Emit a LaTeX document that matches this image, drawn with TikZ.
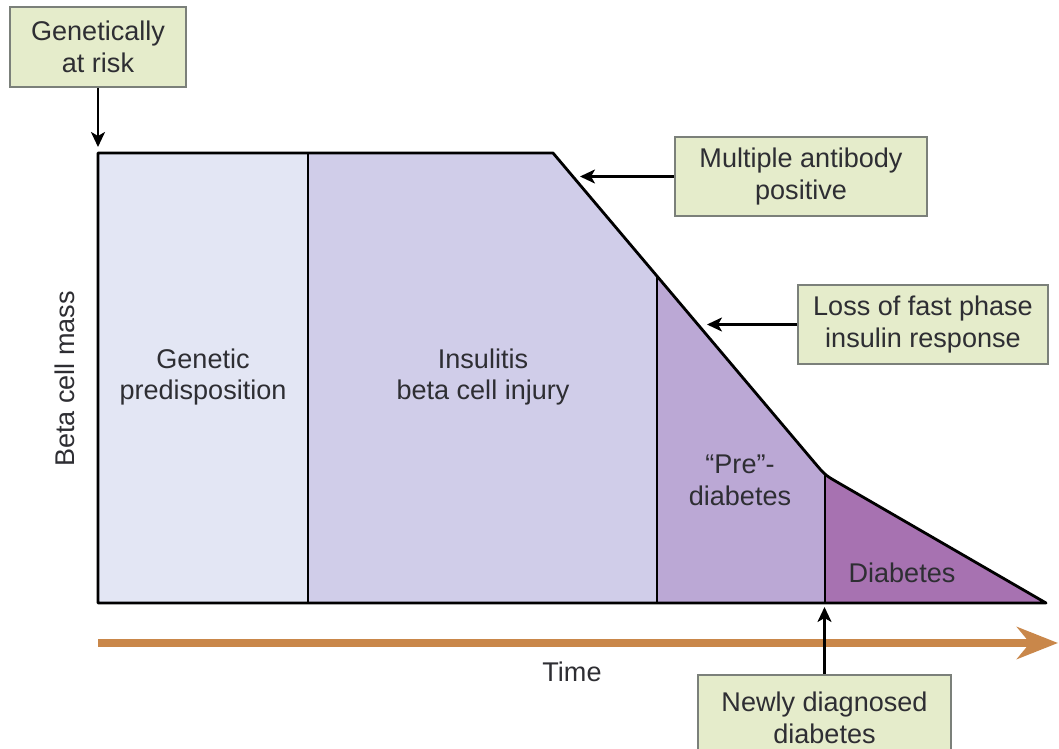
\documentclass[tikz,border=0pt]{standalone}
\usepackage{fontspec}
\setmainfont{Liberation Sans}
\usetikzlibrary{arrows.meta}
\definecolor{genfill}{HTML}{E3E6F4}
\definecolor{insfill}{HTML}{D0CDE9}
\definecolor{prefill}{HTML}{BBA8D5}
\definecolor{diafill}{HTML}{A772B1}
\definecolor{notefill}{HTML}{E5ECCB}
\definecolor{noteline}{HTML}{7B807A}
\definecolor{timeline}{HTML}{C9874A}
\definecolor{inktext}{HTML}{2E2E33}
\tikzset{
  notebox/.style={draw=noteline, line width=1.1pt, fill=notefill, align=center,
    inner sep=0pt, text=inktext},
  pointer/.style={line width=1.4pt, -{Stealth[length=0.3cm, width=0.28cm, inset=0.08cm]}},
  phase/.style={align=center, text=inktext},
}
\begin{document}
\begin{tikzpicture}[x=0.02cm, y=-0.02cm, font=\fontsize{15.4}{18.2}\selectfont]
\useasboundingbox (0,0) rectangle (1059,749);
% corners of the mass curve
\coordinate (bl) at (98,603);
\coordinate (tl) at (98,153);
\coordinate (tg) at (308,153);
\coordinate (bg) at (308,603);
\coordinate (drop) at (553,153);
\coordinate (ti) at (657,276.1);
\coordinate (bi) at (657,603);
\coordinate (knee) at (825,473);
\coordinate (bp) at (825,603);
\coordinate (end) at (1046,603);
% phase fills
\fill[genfill] (tl) -- (tg) -- (bg) -- (bl) -- cycle;
\fill[insfill] (tg) -- (drop) -- (ti) -- (bi) -- (bg) -- cycle;
\fill[prefill] (ti) -- (825,475) -- (bp) -- (bi) -- cycle;
\fill[diafill] (825,475) -- (end) -- (bp) -- cycle;
% dividers and outline
\draw[line width=1.3pt] (tg) -- (bg);
\draw[line width=1.3pt] (ti) -- (bi);
\draw[line width=1.3pt] (knee) -- (bp);
\draw[line width=1.6pt, line join=round] (bl) -- (tl) -- (drop) -- (813,460.8)
  .. controls (825,475) .. (837,482) -- (end) -- cycle;
% phase labels
\node[phase] (gen) at (203,377) {Genetic\\predisposition};
\node[phase] (ins) at (483,377) {Insulitis\\beta cell injury};
\node[phase] (pre) at (740,480) {“Pre”-\\diabetes};
\node[phase] (dia) at (902,573) {Diabetes};
\node[phase, rotate=90] (mass) at (65,379) {Beta cell mass};
% time axis
\coordinate (t0) at (98,643);
\coordinate (t1) at (1058,643);
\draw[timeline, line width=4.5pt, -{Stealth[length=0.82cm, width=0.64cm, inset=0.26cm]}] (t0) -- (t1);
\node[text=inktext] (time) at (572,672) {Time};
% notes and their arrows
\node[notebox, minimum width=3.52cm, minimum height=1.6cm] (risk) at (98,47) {Genetically\\at risk};
\node[notebox, minimum width=5.04cm, minimum height=1.58cm] (anti) at (801,176.5) {Multiple antibody\\positive};
\node[notebox, minimum width=5.0cm, minimum height=1.58cm] (loss) at (923,324.5) {Loss of fast phase\\insulin response};
\node[notebox, minimum width=5.06cm, minimum height=1.7cm] (newly) at (824.5,717.5) {Newly diagnosed\\diabetes};
\coordinate (riskhit) at (98,147);
\coordinate (antihit) at (580,176.5);
\coordinate (losshit) at (707,324.5);
\coordinate (newlyhit) at (824.5,607);
\draw[pointer] (risk) -- (riskhit);
\draw[pointer] (anti) -- (antihit);
\draw[pointer] (loss) -- (losshit);
\draw[pointer] (newly) -- (newlyhit);
\end{tikzpicture}
\end{document}
